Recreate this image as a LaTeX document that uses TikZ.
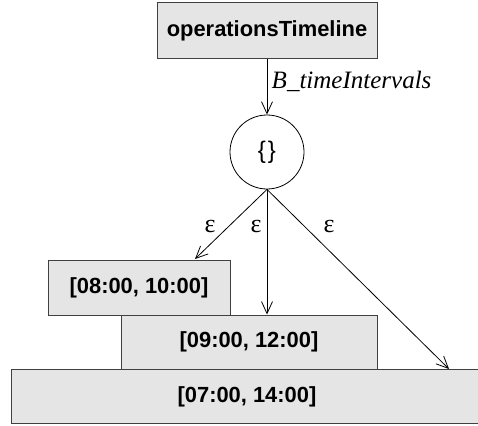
\documentclass[tikz,border=0pt]{standalone}
\usepackage{fontspec}
\setmainfont{Liberation Serif}
\newfontfamily\boxfont{Liberation Sans}
\usetikzlibrary{arrows.meta}
\begin{document}
\begin{tikzpicture}[x=1pt,y=-1pt,
  valbox/.style={draw=black!75,fill=black!10,line width=1pt,inner sep=0pt,
     font=\boxfont\bfseries\fontsize{21.9}{26}\selectfont},
  conn/.style={line width=0.8pt,-{Straight Barb[length=12pt,width=11pt,line width=0.8pt]}},
  lbl/.style={font=\fontsize{26}{30}\selectfont}]
\useasboundingbox (0,0) rectangle (478,425);
% boxes
\node[valbox,minimum width=220pt,minimum height=56pt] (top) at (267,31) {operationsTimeline};
\node[draw,circle,line width=0.8pt,minimum size=74pt,inner sep=0pt,
      font=\boxfont\fontsize{24}{28}\selectfont] (set) at (267,152) {\{\kern2pt\}};
\node[valbox,minimum width=182pt,minimum height=55pt] (b1) at (139,287.5) {[08:00, 10:00]};
\node[valbox,minimum width=256pt,minimum height=54pt] (b2) at (249,342) {[09:00, 12:00]};
\node[valbox,minimum width=472pt,minimum height=54pt] (b3) at (247,396.5) {[07:00, 14:00]};
% connectors
\draw[conn] (top.south) -- node[right,font=\itshape\fontsize{25}{30}\selectfont,xshift=1pt,yshift=6pt]{B\_timeIntervals} (set.north);
\coordinate (t1) at (195,259);
\coordinate (t3) at (449,369);
\draw[conn] (set.south) -- (t1);
\draw[conn] (set.south) -- (set.south |- b2.north);
\draw[conn] (set.south) -- (t3);
\node[lbl] (e1) at (210,226) {ε};
\node[lbl] (e2) at (256,226) {ε};
\node[lbl] (e3) at (329,226) {ε};
\end{tikzpicture}
\end{document}
